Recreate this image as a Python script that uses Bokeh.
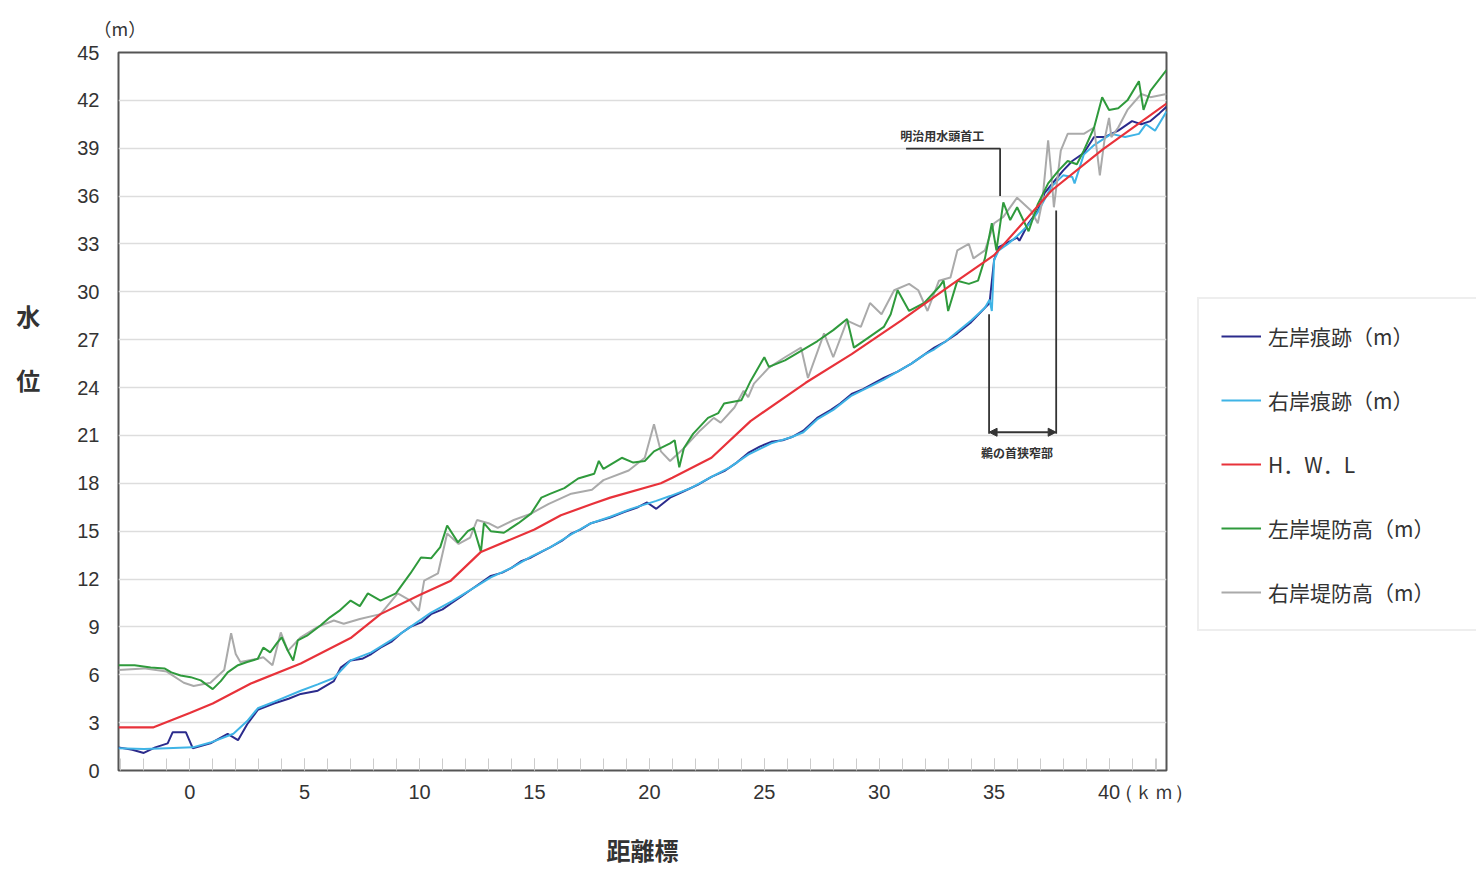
from bokeh.plotting import figure
from bokeh.layouts import row
from bokeh.models import (Range1d, FixedTicker, Label, Legend, LegendItem, Arrow,
                          NormalHead, Title)
from bokeh.embed import file_html
from bokeh.resources import INLINE

# ---------------- data (km, m) ----------------
hwl_km = [-3.1, -1.6, 0.0, 1.0, 2.66, 4.83, 7.0, 8.3, 10.0, 11.36, 12.67, 15.0, 16.15,
          17.5, 18.3, 20.5, 21.0, 22.7, 24.4, 26.8, 28.8, 30.95, 33.1, 35.0, 37.5, 39.7, 42.5]
hwl_m = [2.7, 2.7, 3.6, 4.2, 5.45, 6.7, 8.3, 9.8, 11.0, 11.9, 13.7, 15.1, 16.0,
         16.7, 17.1, 18.0, 18.35, 19.6, 21.9, 24.3, 26.1, 28.2, 30.4, 32.3, 36.35, 38.9, 41.8]

lt_km = [-3.1, -2.5, -2.0, -1.5, -0.96, -0.74, -0.17, 0.13, 0.9, 1.65, 2.1, 2.5, 2.96, 3.66,
         4.3, 4.83, 5.57, 6.27, 6.57, 7.0, 7.5, 7.9, 8.3, 8.8, 9.2, 9.6, 10.1, 10.5, 11.0, 11.4,
         11.8, 12.2, 12.7, 13.1, 13.6, 14.0, 14.4, 14.85, 15.3, 15.7, 16.2, 16.6, 17.0, 17.46,
         18.3, 18.9, 19.5, 19.9, 20.3, 20.9, 21.5, 22.1, 22.7, 23.3, 23.8, 24.3, 24.8, 25.3,
         25.8, 26.2, 26.7, 27.3, 27.9, 28.3, 28.8, 29.3, 29.8, 30.2, 30.8, 31.4, 31.9, 32.4,
         32.9, 33.4, 34.0, 34.6, 34.8, 35.0, 35.2, 35.6, 36.0, 36.1, 36.5, 36.9, 37.2, 37.6,
         38.0, 38.4, 38.9, 39.35, 39.8, 40.4, 41.0, 41.4, 41.8, 42.2, 42.5]
lt_m = [1.45, 1.3, 1.1, 1.45, 1.7, 2.4, 2.4, 1.4, 1.7, 2.3, 1.9, 2.9, 3.8, 4.2,
        4.5, 4.8, 5.0, 5.6, 6.45, 6.9, 7.0, 7.3, 7.7, 8.1, 8.6, 9.0, 9.3, 9.8, 10.1, 10.5,
        10.9, 11.3, 11.8, 12.2, 12.4, 12.7, 13.1, 13.35, 13.7, 14.0, 14.4, 14.85, 15.1, 15.5,
        15.85, 16.2, 16.5, 16.8, 16.4, 17.1, 17.5, 17.9, 18.4, 18.8, 19.3, 19.9, 20.3, 20.6,
        20.7, 20.9, 21.3, 22.1, 22.6, 23.0, 23.6, 23.9, 24.3, 24.6, 25.0, 25.5, 26.0, 26.5,
        26.9, 27.4, 28.1, 29.0, 29.3, 32.0, 32.8, 33.1, 33.4, 33.2, 34.3, 35.1, 36.2, 36.9,
        37.6, 38.2, 38.7, 39.7, 39.7, 40.1, 40.7, 40.5, 40.7, 41.2, 41.6]

rt_km = [-3.1, -2.0, -1.0, 0.13, 0.9, 1.9, 2.5, 2.96, 3.66, 4.83, 5.57, 6.27, 7.0, 7.9,
         8.8, 9.6, 10.5, 11.4, 12.2, 13.1, 14.0, 14.85, 15.7, 16.6, 17.46, 18.3, 19.2, 20.3,
         20.9, 21.8, 22.7, 23.5, 24.3, 25.3, 26.2, 26.7, 27.3, 28.0, 28.8, 29.5, 30.2, 30.8,
         31.4, 32.0, 32.4, 32.9, 33.4, 34.0, 34.6, 34.8, 34.9, 35.0, 35.2, 35.6, 36.0, 36.5,
         36.9, 37.5, 38.0, 38.4, 38.5, 38.9, 39.35, 40.1, 40.7, 41.3, 41.6, 42.0, 42.5]
rt_m = [1.4, 1.35, 1.4, 1.45, 1.75, 2.3, 3.1, 3.9, 4.3, 5.0, 5.4, 5.8, 6.9, 7.4,
        8.2, 9.0, 9.9, 10.6, 11.3, 12.1, 12.7, 13.4, 14.0, 14.8, 15.5, 15.9, 16.4, 16.9,
        17.2, 17.7, 18.4, 19.0, 19.8, 20.5, 20.9, 21.2, 22.0, 22.6, 23.5, 24.0, 24.5, 25.0,
        25.5, 26.1, 26.4, 26.9, 27.5, 28.2, 29.0, 29.5, 28.8, 32.0, 32.6, 33.0, 33.5, 34.2,
        35.0, 36.6, 37.3, 37.2, 36.8, 38.6, 39.2, 39.9, 39.7, 39.9, 40.5, 40.1, 41.3]

lb_km = [-3.1, -2.4, -1.7, -1.1, -0.8, -0.4, 0.04, 0.48, 1.0, 1.35, 1.65, 2.1, 2.5, 2.96,
         3.2, 3.5, 3.8, 4.0, 4.27, 4.5, 4.7, 5.1, 5.7, 6.1, 6.5, 7.0, 7.4, 7.75, 8.3, 8.97,
         9.6, 10.06, 10.5, 10.9, 11.2, 11.67, 12.1, 12.36, 12.67, 12.8, 13.1, 13.67, 14.3,
         14.85, 15.3, 15.7, 16.3, 16.9, 17.6, 17.8, 18.0, 18.8, 19.3, 19.8, 20.2, 20.9, 21.1,
         21.3, 21.5, 21.9, 22.55, 23.0, 23.25, 24.0, 24.4, 25.0, 25.2, 25.9, 26.6, 27.3,
         28.0, 28.6, 28.9, 29.5, 30.2, 30.5, 30.8, 31.3, 31.96, 32.6, 32.8, 33.0, 33.4, 33.9,
         34.3, 34.6, 34.9, 35.1, 35.4, 35.7, 36.0, 36.5, 36.9, 37.35, 37.8, 38.2, 38.6, 38.9,
         39.35, 39.7, 40.0, 40.4, 40.8, 41.3, 41.5, 41.8, 42.5]
lb_m = [6.6, 6.6, 6.45, 6.4, 6.15, 5.95, 5.85, 5.65, 5.1, 5.6, 6.15, 6.6, 6.8, 7.0,
        7.7, 7.4, 8.0, 8.35, 7.5, 6.9, 8.15, 8.45, 9.1, 9.6, 10.0, 10.65, 10.3, 11.1, 10.65, 11.1,
        12.35, 13.35, 13.3, 14.0, 15.35, 14.3, 15.0, 15.2, 13.7, 15.5, 15.0, 14.9, 15.5,
        16.1, 17.1, 17.35, 17.7, 18.3, 18.6, 19.4, 18.9, 19.6, 19.3, 19.4, 20.0, 20.5, 20.7,
        19.0, 20.2, 21.1, 22.1, 22.4, 23.0, 23.2, 24.4, 25.9, 25.3, 25.7, 26.3, 26.9,
        27.6, 28.3, 26.5, 27.1, 27.8, 28.6, 30.1, 28.8, 29.3, 30.3, 30.7, 28.8, 30.7, 30.5,
        30.7, 32.1, 34.3, 32.6, 35.6, 34.5, 35.3, 33.8, 35.5, 36.8, 37.6, 38.2, 38.0, 38.85,
        40.3, 42.2, 41.4, 41.5, 42.0, 43.2, 41.4, 42.6, 43.9]

rb_km = [-3.1, -2.0, -1.0, -0.26, 0.17, 0.9, 1.5, 1.8, 2.0, 2.2, 2.96, 3.2, 3.6, 3.96,
         4.27, 4.83, 5.57, 6.27, 6.7, 7.4, 8.3, 9.05, 9.6, 9.97, 10.2, 10.8, 11.2, 11.7, 12.2,
         12.5, 13.0, 13.4, 14.1, 14.85, 15.6, 16.6, 17.5, 18.0, 19.1, 19.8, 20.2, 20.5, 20.9,
         21.5, 22.2, 22.8, 23.1, 23.7, 24.1, 24.3, 24.55, 25.2, 25.9, 26.6, 26.9, 27.6, 28.0,
         28.6, 29.2, 29.6, 30.1, 30.65, 31.3, 31.7, 32.1, 32.6, 33.1, 33.4, 33.9, 34.1, 34.6,
         35.0, 35.4, 36.0, 36.6, 36.9, 37.1, 37.35, 37.5, 37.6, 37.9, 38.2, 38.9, 39.35, 39.6,
         39.8, 40.0, 40.1, 40.4, 40.8, 41.4, 41.8, 42.5]
rb_m = [6.3, 6.4, 6.2, 5.5, 5.3, 5.5, 6.3, 8.6, 7.3, 6.8, 7.0, 7.1, 6.6, 8.65,
        7.5, 8.35, 9.0, 9.4, 9.2, 9.5, 9.8, 11.1, 10.65, 10.0, 11.9, 12.35, 14.85, 14.2, 14.6,
        15.7, 15.5, 15.2, 15.7, 16.1, 16.7, 17.35, 17.6, 18.2, 18.8, 19.6, 21.7, 20.0, 19.4,
        20.2, 21.3, 22.1, 21.8, 22.75, 23.8, 23.4, 24.25, 25.25, 25.9, 26.5, 24.6, 27.4, 25.9,
        28.2, 27.8, 29.3, 28.6, 30.1, 30.5, 30.1, 28.8, 30.7, 30.9, 32.6, 33.0, 32.1, 32.6,
        34.3, 34.7, 35.9, 35.1, 34.3, 35.7, 39.5, 37.2, 35.3, 38.85, 39.9, 39.9, 40.3, 37.3,
        39.5, 40.9, 39.7, 40.3, 41.4, 42.4, 42.2, 42.4]

y_ticks = list(range(0, 46, 3))
x_ticks = list(range(0, 41, 5))
km_unit_pos = 42.05          # where the "(km)" unit text sits on the x axis
x_minor = list(range(-3, 43))

series_names = ["左岸痕跡（m）", "右岸痕跡（m）", "H．W．L", "左岸堤防高（m）", "右岸堤防高（m）"]
series_km = [lt_km, rt_km, hwl_km, lb_km, rb_km]
series_m = [lt_m, rt_m, hwl_m, lb_m, rb_m]
colors = ["#2b2b8c", "#3fb4e6", "#e8323a", "#2f9a3c", "#aaaaaa"]

# annotation positions (km, m)
meiji_x = [31.17, 35.26, 35.26]
meiji_y = [38.97, 38.97, 36.0]
unokubi_left_x = [34.78, 34.78]
unokubi_left_y = [28.6, 21.1]
unokubi_right_x = [37.7, 37.7]
unokubi_right_y = [35.1, 21.1]

JP = "Noto Sans CJK JP"
NUM = "Liberation Sans"

p = figure(width=1193, height=869, output_backend="svg", toolbar_location=None,
           x_range=Range1d(-3.1, 42.5), y_range=Range1d(0, 45),
           min_border_left=118, min_border_right=27, min_border_top=52,
           min_border_bottom=99)
p.background_fill_color = "white"
p.border_fill_color = "white"
p.outline_line_color = "#555555"
p.outline_line_width = 2

p.xgrid.visible = False
p.ygrid.grid_line_color = "#dddddd"
p.ygrid.grid_line_width = 1.5
p.ygrid.ticker = FixedTicker(ticks=y_ticks)

p.yaxis.ticker = FixedTicker(ticks=y_ticks)
p.yaxis.axis_line_color = None
p.yaxis.major_tick_line_color = None
p.yaxis.minor_tick_line_color = None
p.yaxis.major_label_text_font = NUM
p.yaxis.major_label_text_font_size = "20px"
p.yaxis.major_label_text_color = "#333333"
p.yaxis.major_label_standoff = 13
p.yaxis.axis_label = "水\n位\n\n"
p.yaxis.axis_label_orientation = "horizontal"
p.yaxis.axis_label_text_font = JP
p.yaxis.axis_label_text_font_size = "24px"
p.yaxis.axis_label_text_font_style = "bold"
p.yaxis.axis_label_text_color = "#333333"
p.yaxis.axis_label_text_line_height = 1.82
p.yaxis.axis_label_standoff = 34

p.xaxis.ticker = FixedTicker(ticks=x_ticks + [km_unit_pos], minor_ticks=x_minor)
p.xaxis.major_label_overrides = {km_unit_pos: "（ｋｍ）"}
p.xaxis.axis_line_color = None
p.xaxis.major_tick_in = 12
p.xaxis.major_tick_out = 0
p.xaxis.minor_tick_in = 12
p.xaxis.minor_tick_out = 0
p.xaxis.major_tick_line_color = "#cccccc"
p.xaxis.minor_tick_line_color = "#cccccc"
p.xaxis.major_label_text_font = NUM
p.xaxis.major_label_text_font_size = "20px"
p.xaxis.major_label_text_color = "#333333"
p.xaxis.major_label_standoff = 10
p.xaxis.axis_label = "距離標"
p.xaxis.axis_label_text_font = JP
p.xaxis.axis_label_text_font_size = "24px"
p.xaxis.axis_label_text_font_style = "bold"
p.xaxis.axis_label_text_color = "#333333"
p.xaxis.axis_label_standoff = 26

p.add_layout(Title(text="（m）", align="left", offset=-25, standoff=24,
                   text_font=JP, text_font_size="18px", text_font_style="normal",
                   text_color="#333333"), "above")

p.line(lt_km, lt_m, line_color=colors[0], line_width=2)
p.line(rt_km, rt_m, line_color=colors[1], line_width=2)
p.line(rb_km, rb_m, line_color=colors[4], line_width=2)
p.line(lb_km, lb_m, line_color=colors[3], line_width=2)
p.line(hwl_km, hwl_m, line_color=colors[2], line_width=2.2)

# annotations
p.line(meiji_x, meiji_y, line_color="#333333", line_width=1.8)
p.line(unokubi_left_x, unokubi_left_y, line_color="#333333", line_width=1.8)
p.line(unokubi_right_x, unokubi_right_y, line_color="#333333", line_width=1.8)
p.add_layout(Arrow(start=NormalHead(size=8, fill_color="#333333", line_color="#333333"),
                   end=NormalHead(size=8, fill_color="#333333", line_color="#333333"),
                   x_start=unokubi_left_x[0], x_end=unokubi_right_x[0],
                   y_start=21.2, y_end=21.2, line_color="#333333", line_width=1.8))
p.add_layout(Label(x=32.74, y=39.8, text="明治用水頭首工", text_font=JP,
                   text_font_size="12px", text_color="#333333", text_align="center",
                   text_baseline="middle", text_font_style="bold"))
p.add_layout(Label(x=36.0, y=19.9, text="鵜の首狭窄部", text_font=JP,
                   text_font_size="12px", text_color="#333333", text_align="center",
                   text_baseline="middle", text_font_style="bold"))

# ---------------- legend panel ----------------
# the same series are drawn here outside the visible ranges so that they only
# provide the legend swatches
q = figure(width=283, height=869, output_backend="svg", toolbar_location=None,
           x_range=Range1d(100, 101), y_range=Range1d(100, 101),
           x_axis_location=None, y_axis_location=None,
           min_border_left=0, min_border_right=0, min_border_top=0, min_border_bottom=0)
q.grid.visible = False
q.outline_line_color = None
q.background_fill_color = "white"
q.border_fill_color = "white"
swatches = [q.line(xs, ys, line_color=c, line_width=2)
            for xs, ys, c in zip(series_km, series_m, colors)]

legend = Legend(items=[LegendItem(label=n, renderers=[r])
                       for n, r in zip(series_names, swatches)],
                location=(4, 139))
legend.label_text_font = JP
legend.label_text_font_size = "21px"
legend.label_text_color = "#333333"
legend.glyph_width = 40
legend.glyph_height = 22
legend.label_height = 22
legend.label_width = 200
legend.label_standoff = 7
legend.spacing = 34
legend.padding = 22
legend.margin = 0
legend.border_line_color = "#dddddd"
legend.border_line_width = 2
legend.background_fill_color = "white"
q.add_layout(legend, "center")

layout = row(p, q)
open("out.html", "w").write(file_html(layout, INLINE))
